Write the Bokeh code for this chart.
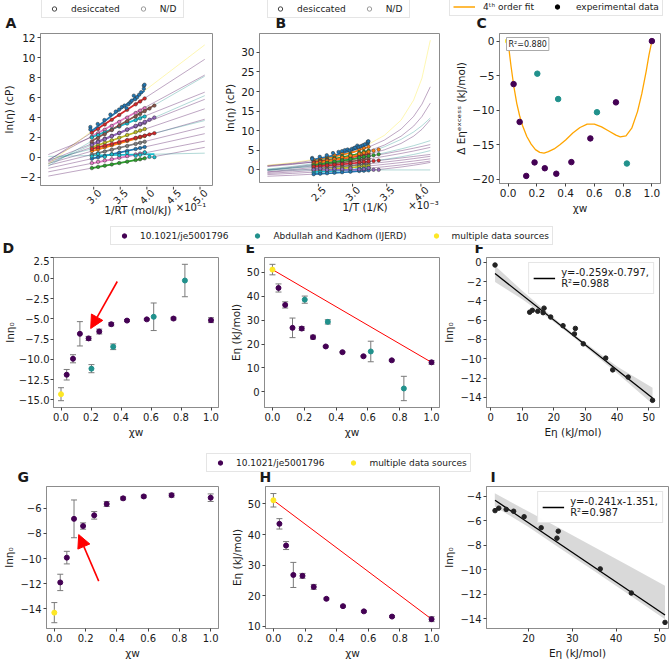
import numpy as np
from bokeh.plotting import figure
from bokeh.layouts import column, row
from bokeh.models import (Range1d, Legend, LegendItem, Label, Arrow, NormalHead, TeeHead,
                          Whisker, ColumnDataSource, FixedTicker)
from bokeh.core.properties import value
from bokeh.embed import file_html
from bokeh.resources import INLINE

R_KJ = 0.0083145  # kJ/(mol K)
FONT = "DejaVu Sans"

# ---------------- data sources ----------------
src_names = ["10.1021/je5001796", "Abdullah and Kadhom (IJERD)", "multiple data sources"]
src_colors = ["#440154", "#21918c", "#fde725"]

# ---------------- panels D, E, G, H (Arrhenius parameters) ----------------
xw_je = [0.038, 0.080, 0.126, 0.184, 0.255, 0.335, 0.440, 0.572, 0.750, 1.000]
ln0_je = [-11.90, -9.93, -6.85, -7.42, -6.57, -5.67, -5.22, -5.07, -4.97, -5.17]
ln0_je_err = [0.65, 0.50, 1.50, 0.25, 0.30, 0.20, 0.12, 0.10, 0.15, 0.30]
E_je = [43.5, 36.4, 26.8, 26.5, 22.9, 19.0, 16.6, 14.9, 13.2, 12.35]
E_je_err = [1.7, 1.3, 4.1, 0.8, 0.8, 0.3, 0.3, 0.3, 0.3, 0.8]

xw_ak = [0.203, 0.348, 0.618, 0.826]
ln0_ak = [-11.15, -8.45, -4.75, -0.28]
ln0_ak_err = [0.50, 0.35, 1.70, 2.00]
E_ak = [38.6, 29.3, 16.9, 1.4]
E_ak_err = [1.5, 0.9, 4.3, 5.1]

xw_ms = [0.0]
ln0_ms = [-14.3]
ln0_ms_err = [0.8]
E_ms = [51.2]
E_ms_err = [2.2]

# ---------------- panels A, B (viscosity data) ----------------
T_je = [363.15, 353.15, 343.15, 333.15, 323.15, 313.15, 303.15, 298.15, 293.15]
T_ak = [363.15, 353.15, 343.15, 333.15, 323.15, 313.15, 303.15, 298.15, 293.15, 288.15, 283.15]
lneta_je = [
    [2.47, 2.86, 3.30, 3.77, 4.26, 4.78, 5.33, 5.62, 5.92],
    [2.07, 2.41, 2.77, 3.16, 3.56, 3.99, 4.45, 4.69, 4.94],
    [1.99, 2.24, 2.51, 2.79, 3.09, 3.40, 3.74, 3.92, 4.10],
    [1.38, 1.63, 1.89, 2.17, 2.46, 2.78, 3.11, 3.29, 3.47],
    [1.03, 1.25, 1.48, 1.72, 1.97, 2.25, 2.54, 2.69, 2.85],
    [0.64, 0.82, 1.01, 1.21, 1.42, 1.65, 1.89, 2.02, 2.15],
    [0.27, 0.42, 0.58, 0.76, 0.94, 1.14, 1.35, 1.46, 1.57],
    [-0.14, 0.00, 0.15, 0.31, 0.48, 0.65, 0.84, 0.94, 1.04],
    [-0.58, -0.45, -0.32, -0.19, -0.04, 0.12, 0.29, 0.38, 0.47],
    [-1.08, -0.96, -0.84, -0.71, -0.57, -0.43, -0.27, -0.19, -0.10],
]
lneta_ak = [
    [1.58, 1.95, 2.33, 2.74, 3.17, 3.63, 4.11, 4.37, 4.64, 4.91, 5.20],
    [1.25, 1.53, 1.82, 2.13, 2.46, 2.80, 3.17, 3.37, 3.57, 3.78, 4.00],
    [0.85, 1.01, 1.17, 1.35, 1.54, 1.74, 1.96, 2.07, 2.18, 2.30, 2.43],
    [0.10, 0.35, 0.05, 0.30, 0.20, 0.45, 0.15, 0.25, 0.50, 0.05, 0.02],
]
invRT_ms = [3.29, 3.29, 3.40, 3.50, 3.59, 3.67, 3.72, 3.76, 3.80, 3.83, 3.86,
            3.89, 3.91, 3.94, 3.96, 3.99, 4.02, 4.05, 4.09, 4.09, 4.10]
lneta_ms = [3.05, 2.80, 3.35, 3.75, 4.30, 4.60, 4.80, 5.05, 5.20, 4.95, 5.35,
            5.55, 5.70, 6.20, 5.85, 6.05, 6.30, 6.55, 6.90, 7.20, 7.30]
colA_je = ["#d62728", "#e377c2", "#17becf", "#9467bd", "#bcbd22", "#ff7f0e",
           "#7f7f7f", "#1f77b4", "#e377c2", "#2ca02c"]
colA_ak = ["#8c564b", "#9467bd", "#d62728", "#17becf"]
colA_ms = "#1f77b4"
colB_je = ["#ff7f0e", "#2ca02c", "#d62728", "#9467bd", "#8c564b", "#e377c2",
           "#7f7f7f", "#bcbd22", "#17becf", "#1f77b4"]
colB_ak = ["#ff7f0e", "#2ca02c", "#d62728", "#9467bd"]
colB_ms = "#1f77b4"

T_ext = [452.0, 240.5]  # temperature span of the extrapolated Arrhenius lines (K)

invT_curve = [2.2, 2.5, 2.75, 3.0, 3.25, 3.42, 3.6, 3.8, 3.95, 4.05, 4.15]
vft_je = [
    [1.02, 1.70, 2.43, 3.38, 4.69, 5.90, 7.61, 10.42, 13.64, 16.78, 21.21],
    [0.85, 1.42, 2.04, 2.84, 3.93, 4.93, 6.34, 8.61, 11.17, 13.63, 17.04],
    [1.13, 1.55, 2.00, 2.58, 3.38, 4.10, 5.12, 6.76, 8.61, 10.36, 12.78],
    [0.00, 0.71, 1.37, 2.08, 2.87, 3.45, 4.11, 4.90, 5.54, 6.00, 6.47],
    [-0.09, 0.49, 1.03, 1.64, 2.33, 2.85, 3.46, 4.21, 4.83, 5.29, 5.76],
    [-0.49, 0.11, 0.64, 1.18, 1.74, 2.14, 2.57, 3.06, 3.44, 3.70, 3.96],
    [-0.60, -0.15, 0.26, 0.71, 1.21, 1.57, 1.99, 2.49, 2.89, 3.18, 3.48],
    [-0.89, -0.50, -0.14, 0.26, 0.71, 1.04, 1.42, 1.89, 2.27, 2.55, 2.83],
    [-1.18, -0.87, -0.57, -0.23, 0.16, 0.46, 0.82, 1.27, 1.66, 1.95, 2.26],
    [-1.61, -1.35, -1.08, -0.78, -0.40, -0.10, 0.26, 0.75, 1.20, 1.54, 1.92],
]
vft_ak = [
    [0.21, 0.89, 1.60, 2.49, 3.62, 4.60, 5.90, 7.79, 9.68, 11.29, 13.24],
    [-0.13, 0.58, 1.25, 2.01, 2.89, 3.56, 4.35, 5.35, 6.19, 6.82, 7.48],
    [0.14, 0.50, 0.85, 1.27, 1.78, 2.18, 2.68, 3.35, 3.95, 4.41, 4.93],
    [0.00, 0.00, 0.00, 0.00, 0.00, 0.00, 0.00, 0.00, 0.00, 0.00, 0.00],
]
vft_ms = [1.18, 1.88, 2.66, 3.71, 5.21, 6.65, 8.82, 12.70, 17.80, 23.40, 33.10]

fit4_x = [0.0, 0.01, 0.02, 0.04, 0.06, 0.08, 0.10, 0.13, 0.16, 0.19, 0.22, 0.25, 0.28, 0.32,
          0.36, 0.40, 0.45, 0.50, 0.55, 0.60, 0.65, 0.70, 0.75, 0.78, 0.82, 0.86, 0.90,
          0.93, 0.96, 0.98, 1.0]
fit4_y = [0.0, -1.9, -3.6, -6.6, -9.0, -10.8, -12.2, -13.8, -14.9, -15.7, -16.1, -16.2, -16.0,
          -15.6, -15.0, -14.3, -13.3, -12.5, -12.0, -12.0, -12.4, -13.0, -13.6, -13.85, -13.7,
          -12.6, -10.2, -7.6, -4.4, -2.0, 0.0]
fit4_r2 = "R²=0.880"

# ---------------- panels F, I (regressions) ----------------
regF_slope, regF_icpt = -0.259, -0.797
regF_label = "y=-0.259x-0.797,\nR²=0.988"
bandF_x = [1.4, 10.0, 20.0, 26.0, 30.0, 40.0, 51.2]
bandF_hi = [-0.35, -2.95, -5.78, -7.35, -8.37, -10.80, -13.0]
bandF_lo = [-2.05, -3.84, -6.18, -7.71, -8.77, -11.50, -14.7]

regI_slope, regI_icpt = -0.241, -1.351
regI_label = "y=-0.241x-1.351,\nR²=0.987"
bandI_x = [12.3, 20.0, 27.0, 35.0, 43.0, 51.2]
bandI_hi = [-3.75, -5.25, -6.60, -8.15, -9.70, -11.30]
bandI_lo = [-4.85, -6.50, -8.20, -10.10, -12.05, -14.05]

# red arrows (x_start, y_start, x_end, y_end)
arrowD = [0.375, -0.4, 0.198, -6.2]
arrowG = [0.284, -11.8, 0.156, -8.1]

TXT = "#1a1a1a"
FAR = [-1.0e4]  # legend proxy renderers are placed outside the visible range


# ---------------- helpers ----------------
def tick_labels(ticks, nd):
    out = {}
    for t in ticks:
        s = f"{t:.{nd}f}"
        if s.startswith("-"):
            s = "\u2212" + s[1:]
        out[t] = s
    return out


def mkfig(w, h, left, right, top, bottom, xr, yr, xt, yt, xnd, ynd, xlab, ylab,
          tick_fs="10px", lab_fs="10.5px", no_xaxis=False):
    kw = dict(x_axis_location=None) if no_xaxis else {}
    p = figure(width=w, height=h, x_range=Range1d(*xr), y_range=Range1d(*yr),
               output_backend="svg", toolbar_location=None,
               min_border_left=left, min_border_right=right,
               min_border_top=top, min_border_bottom=bottom, **kw)
    p.xgrid.visible = False
    p.ygrid.visible = False
    p.outline_line_color = "#8c8c8c"
    p.outline_line_width = 1
    axes = [p.yaxis[0]]
    if not no_xaxis:
        axes.append(p.xaxis[0])
        p.xaxis.ticker = FixedTicker(ticks=xt)
        p.xaxis.major_label_overrides = tick_labels(xt, xnd)
        p.xaxis.axis_label = xlab
    p.yaxis.ticker = FixedTicker(ticks=yt)
    p.yaxis.major_label_overrides = tick_labels(yt, ynd)
    p.yaxis.axis_label = ylab
    for ax in axes:
        ax.axis_line_color = "#8c8c8c"
        ax.major_tick_line_color = "#444444"
        ax.major_tick_out = 3
        ax.major_tick_in = 0
        ax.minor_tick_line_color = None
        ax.major_label_text_font = FONT
        ax.major_label_text_font_size = tick_fs
        ax.major_label_text_color = TXT
        ax.major_label_standoff = 2
        ax.axis_label_text_font = FONT
        ax.axis_label_text_font_size = lab_fs
        ax.axis_label_text_font_style = "normal"
        ax.axis_label_text_color = TXT
        ax.axis_label_standoff = 2
    return p


def mkstrip(h, w=669):
    s = figure(width=w, height=h, x_range=Range1d(0, w), y_range=Range1d(0, h),
               x_axis_type=None, y_axis_type=None, output_backend="svg",
               toolbar_location=None, min_border=0)
    s.outline_line_color = None
    return s


def mksub(parent, w, h, left, right):
    xs, xe = parent.x_range.start, parent.x_range.end
    k = (xe - xs) / (w - left - right)
    s = figure(width=w, height=h, x_range=Range1d(xs - left * k, xe + right * k),
               y_range=Range1d(0, h), x_axis_type=None, y_axis_type=None,
               output_backend="svg", toolbar_location=None, min_border=0)
    s.outline_line_color = None
    return s


def txt(s, xs, ys, texts, size="10.5px", align="center", baseline="middle", angle=0.0,
        style="normal", level="glyph"):
    s.text(x=xs, y=ys, text=texts, angle=angle, text_align=align, text_baseline=baseline,
           text_font=value(FONT), text_font_size=value(size), text_color=TXT,
           text_font_style=value(style), level=level)


def strip_legend(s, items, x, y, spacing=19, glyph_w=20, standoff=6):
    leg = Legend(items=items, location=(x, y), orientation="horizontal",
                 label_text_font=FONT, label_text_font_size="9px", label_text_color=TXT,
                 border_line_color="#cccccc", border_line_width=1,
                 background_fill_color="white", background_fill_alpha=1.0,
                 padding=3, margin=0, spacing=spacing, label_standoff=standoff,
                 glyph_width=glyph_w, glyph_height=11, label_height=11, level="underlay")
    s.add_layout(leg)


def inv_rt(T):
    return [10.0 / (R_KJ * t) for t in T]


def errbars(p, xs, ys, es):
    src = ColumnDataSource(dict(x=xs, up=[a + b for a, b in zip(ys, es)],
                                lo=[a - b for a, b in zip(ys, es)]))
    p.add_layout(Whisker(source=src, base="x", upper="up", lower="lo",
                         line_color="#7a7a7a", line_width=1, level="underlay",
                         upper_head=TeeHead(size=6, line_color="#7a7a7a", line_width=1),
                         lower_head=TeeHead(size=6, line_color="#7a7a7a", line_width=1)))


def letters(s, xs, texts):
    txt(s, xs, [0.5] * len(xs), texts, size="14px", align="left", baseline="bottom",
        style="bold", level="overlay")


# ================= ROW 1 =================
strip1 = mkstrip(31)
r_des = strip1.scatter(x=FAR, y=FAR, marker="circle", size=4, fill_color=None, line_color="#444444")
r_nd = strip1.scatter(x=FAR, y=FAR, marker="circle", size=4, fill_color=None, line_color="#9a9a9a")
strip_legend(strip1, [LegendItem(label=value("desiccated"), renderers=[r_des]),
                      LegendItem(label=value("N/D"), renderers=[r_nd])], 41, 13,
             spacing=14, glyph_w=18, standoff=8)
strip_legend(strip1, [LegendItem(label=value("desiccated"), renderers=[r_des]),
                      LegendItem(label=value("N/D"), renderers=[r_nd])], 267, 13,
             spacing=14, glyph_w=18, standoff=8)
r_fit = strip1.line(x=FAR * 2, y=FAR * 2, line_color="#ffa500", line_width=1.5)
r_exp = strip1.scatter(x=FAR, y=FAR, marker="circle", size=5, fill_color="black", line_color="black")
strip_legend(strip1, [LegendItem(label=value("4ᵗʰ order fit"), renderers=[r_fit]),
                      LegendItem(label=value("experimental data"), renderers=[r_exp])],
             449, 15, spacing=12, glyph_w=22, standoff=8)
letters(strip1, [5, 275, 476], ["A", "B", "C"])

# ---- A
xtA = [3.0, 3.5, 4.0, 4.5, 5.0]
pA = mkfig(220, 155, 37, 8, 2, 1, (2.544, 5.117), (-2.83, 12.45),
           xtA, [-2, 0, 2, 4, 6, 8, 10, 12], 1, 0,
           None, "ln(η) (cP)", tick_fs="10.5px", lab_fs="10.5px", no_xaxis=True)
groups = [(ln0_je, E_je, 0), (ln0_ak, E_ak, 1), (ln0_ms, E_ms, 2)]
for l0s, Es, g in groups:
    for l0, E in zip(l0s, Es):
        xs = inv_rt(T_ext)
        pA.line(xs, [l0 + E * x / 10 for x in xs], line_color=src_colors[g], line_alpha=0.35, line_width=1)
for i, (l0, E) in enumerate(zip(ln0_je, E_je)):
    xs = inv_rt([T_je[0], T_je[-1]])
    pA.line(xs, [l0 + E * x / 10 for x in xs], line_color=colA_je[i], line_width=1.7)
for i, (l0, E) in enumerate(zip(ln0_ak, E_ak)):
    xs = inv_rt([T_ak[0], T_ak[-1]])
    pA.line(xs, [l0 + E * x / 10 for x in xs], line_color=colA_ak[i], line_width=1.7)
xs = [min(invRT_ms), max(invRT_ms)]
pA.line(xs, [ln0_ms[0] + E_ms[0] * x / 10 for x in xs], line_color=colA_ms, line_width=1.7)
for i, ys in enumerate(lneta_je):
    pA.scatter(inv_rt(T_je), ys, size=3.5, fill_color=colA_je[i], line_color="#333333", line_width=0.5)
for i, ys in enumerate(lneta_ak):
    pA.scatter(inv_rt(T_ak), ys, size=3.5, fill_color=colA_ak[i], line_color="#333333", line_width=0.5)
pA.scatter(invRT_ms, lneta_ms, size=3.5, fill_color=colA_ms, line_color="#333333", line_width=0.5)

subA = mksub(pA, 220, 34, 37, 8)
subA.segment(x0=xtA, y0=[34] * len(xtA), x1=xtA, y1=[31] * len(xtA), line_color="#444444")
txt(subA, xtA, [24] * len(xtA), list(tick_labels(xtA, 1).values()), size="10px", angle=np.pi / 4)
txt(subA, [(pA.x_range.start + pA.x_range.end) / 2], [11], ["1/RT (mol/kJ)"])
txt(subA, [pA.x_range.end], [13], ["×10⁻¹"], size="10px", align="right")

# ---- B
xtB = [2.5, 3.0, 3.5, 4.0]
pB = mkfig(220, 152, 39, 1, 2, 1, (2.105, 4.26), (-3.2, 34.8),
           xtB, [0, 5, 10, 15, 20, 25, 30], 1, 0,
           None, "ln(η) (cP)", tick_fs="10.5px", lab_fs="10.5px", no_xaxis=True)
curve_groups = [(vft_je, 0), (vft_ak, 1), ([vft_ms], 2)]
for curves, g in curve_groups:
    for c in curves:
        pB.line(invT_curve, c, line_color=src_colors[g], line_alpha=0.35, line_width=1)
fit_idx = [i for i, x in enumerate(invT_curve) if 2.74 <= x <= 3.43]
for curves, cols in [(vft_je, colB_je), (vft_ak, colB_ak), ([vft_ms], [colB_ms])]:
    for c, col in zip(curves, cols):
        pB.line([invT_curve[i] for i in fit_idx], [c[i] for i in fit_idx], line_color=col, line_width=1.7)
for i, ys in enumerate(lneta_je):
    pB.scatter([1000.0 / t for t in T_je], ys, size=3.5, fill_color=colB_je[i], line_color="#333333", line_width=0.5)
for i, ys in enumerate(lneta_ak):
    pB.scatter([1000.0 / t for t in T_ak], ys, size=3.5, fill_color=colB_ak[i], line_color="#333333", line_width=0.5)
pB.scatter([x * R_KJ * 100 for x in invRT_ms], lneta_ms, size=3.5, fill_color=colB_ms,
           line_color="#333333", line_width=0.5)

subB = mksub(pB, 220, 35, 39, 1)
subB.segment(x0=xtB, y0=[35] * len(xtB), x1=xtB, y1=[32] * len(xtB), line_color="#444444")
txt(subB, xtB, [25] * len(xtB), list(tick_labels(xtB, 1).values()), size="10px", angle=np.pi / 4)
txt(subB, [(pB.x_range.start + pB.x_range.end) / 2], [12], ["1/T (1/K)"])
txt(subB, [pB.x_range.end], [13], ["×10⁻³"], size="10px", align="right")

# ---- C
pC = mkfig(229, 189, 59, 9, 2, 37, (-0.06, 1.06), (-20.6, 1.1),
           [0.0, 0.2, 0.4, 0.6, 0.8, 1.0], [-20, -15, -10, -5, 0], 1, 0,
           "χw", "Δ Eηᵉˣᶜᵉˢˢ (kJ/mol)", tick_fs="10.5px", lab_fs="10.5px")
E0, E1 = E_ms[0], E_je[-1]
pC.line(fit4_x, fit4_y, line_color="#ffa500", line_width=1.3)
for xs_, Es_, g in [(xw_je, E_je, 0), (xw_ak, E_ak, 1), (xw_ms, E_ms, 2)]:
    exc = [E - (E0 * (1 - x) + E1 * x) for x, E in zip(xs_, Es_)]
    pC.scatter(xs_, exc, size=5.5, fill_color=src_colors[g], line_color=src_colors[g])
pC.add_layout(Label(x=pC.x_range.start, y=pC.y_range.end, x_offset=7, y_offset=-4,
                    text=fit4_r2, text_font=FONT, text_font_size="8px", text_baseline="top",
                    text_color=TXT, border_line_color="#aaaaaa", border_line_width=1,
                    background_fill_color="white", padding=2))

# ================= ROW 2 =================
strip2 = mkstrip(36)
rs = [strip2.scatter(x=FAR, y=FAR, marker="circle", size=4, fill_color=c, line_color=c) for c in src_colors]
strip_legend(strip2, [LegendItem(label=value(n), renderers=[r]) for n, r in zip(src_names, rs)], 110, 11)
letters(strip2, [2, 245, 474], ["D", "E", "F"])

# ---- D
pD = mkfig(220, 184, 47, 2, 1, 32, (-0.05, 1.05), (-15.94, 2.56),
           [0.0, 0.2, 0.4, 0.6, 0.8, 1.0], [-15, -12.5, -10, -7.5, -5, -2.5, 0, 2.5], 1, 1,
           "χw", "lnη₀")
pD.yaxis.major_label_standoff = 1
pD.yaxis.axis_label_standoff = 0
for xs_, ys_, es_, g in [(xw_je, ln0_je, ln0_je_err, 0), (xw_ak, ln0_ak, ln0_ak_err, 1),
                         (xw_ms, ln0_ms, ln0_ms_err, 2)]:
    errbars(pD, xs_, ys_, es_)
    pD.scatter(xs_, ys_, size=5, fill_color=src_colors[g], line_color=src_colors[g])
pD.add_layout(Arrow(end=NormalHead(size=13, fill_color="red", line_color="red"),
                    x_start=arrowD[0], y_start=arrowD[1], x_end=arrowD[2], y_end=arrowD[3],
                    line_color="red", line_width=1.6))

# ---- E
pE = mkfig(220, 184, 44, 1, 1, 32, (-0.05, 1.05), (-6.56, 56.26),
           [0.0, 0.2, 0.4, 0.6, 0.8, 1.0], [0, 10, 20, 30, 40, 50], 1, 0,
           "χw", "Eη (kJ/mol)")
pE.line([xw_ms[0], xw_je[-1]], [E_ms[0], E_je[-1]], line_color="red", line_width=1)
for xs_, ys_, es_, g in [(xw_je, E_je, E_je_err, 0), (xw_ak, E_ak, E_ak_err, 1),
                         (xw_ms, E_ms, E_ms_err, 2)]:
    errbars(pE, xs_, ys_, es_)
    pE.scatter(xs_, ys_, size=5, fill_color=src_colors[g], line_color=src_colors[g])

# ---- F
pF = mkfig(229, 184, 44, 10, 1, 32, (-1.3, 53.4), (-15.05, 0.5),
           [0, 10, 20, 30, 40, 50], [-14, -12, -10, -8, -6, -4, -2, 0], 0, 0,
           "Eη (kJ/mol)", "lnη₀")
pF.varea(x=bandF_x, y1=bandF_lo, y2=bandF_hi, fill_color="black", fill_alpha=0.15)
xF = E_je + E_ak + E_ms
yF = ln0_je + ln0_ak + ln0_ms
lx = [min(xF), max(xF)]
rF = pF.line(lx, [regF_slope * x + regF_icpt for x in lx], line_color="black", line_width=1.3)
pF.scatter(xF, yF, size=4.5, fill_color="#222222", line_color="#222222")
pF.add_layout(Legend(items=[LegendItem(label=value(regF_label), renderers=[rF])],
                     location="top_right", label_text_font=FONT, label_text_font_size="10px",
                     label_text_color=TXT, border_line_color="#cccccc", padding=4, margin=5,
                     glyph_width=22, label_standoff=6))

# ================= ROW 3 =================
strip3 = mkstrip(45)
rs3 = [strip3.scatter(x=FAR, y=FAR, marker="circle", size=4, fill_color=src_colors[i],
                      line_color=src_colors[i]) for i in (0, 2)]
strip_legend(strip3, [LegendItem(label=value(src_names[0]), renderers=[rs3[0]]),
                      LegendItem(label=value(src_names[2]), renderers=[rs3[1]])], 206, 13)
letters(strip3, [17, 259, 490], ["G", "H", "I"])

# ---- G
pG = mkfig(220, 176, 40, 2, 1, 30, (-0.05, 1.05), (-15.56, -4.28),
           [0.0, 0.2, 0.4, 0.6, 0.8, 1.0], [-14, -12, -10, -8, -6], 1, 0,
           "χw", "lnη₀")
for xs_, ys_, es_, g in [(xw_je, ln0_je, ln0_je_err, 0), (xw_ms, ln0_ms, ln0_ms_err, 2)]:
    errbars(pG, xs_, ys_, es_)
    pG.scatter(xs_, ys_, size=5, fill_color=src_colors[g], line_color=src_colors[g])
pG.add_layout(Arrow(end=NormalHead(size=13, fill_color="red", line_color="red"),
                    x_start=arrowG[0], y_start=arrowG[1], x_end=arrowG[2], y_end=arrowG[3],
                    line_color="red", line_width=1.6))

# ---- H
pH = mkfig(220, 176, 45, 1, 1, 30, (-0.05, 1.05), (9.3, 55.7),
           [0.0, 0.2, 0.4, 0.6, 0.8, 1.0], [10, 20, 30, 40, 50], 1, 0,
           "χw", "Eη (kJ/mol)")
pH.line([xw_ms[0], xw_je[-1]], [E_ms[0], E_je[-1]], line_color="red", line_width=1)
for xs_, ys_, es_, g in [(xw_je, E_je, E_je_err, 0), (xw_ms, E_ms, E_ms_err, 2)]:
    errbars(pH, xs_, ys_, es_)
    pH.scatter(xs_, ys_, size=5, fill_color=src_colors[g], line_color=src_colors[g])

# ---- I
pI = mkfig(229, 176, 38, 1, 1, 30, (10.4, 52.0), (-14.8, -3.2),
           [20, 30, 40, 50], [-14, -12, -10, -8, -6, -4], 0, 0,
           "Eη (kJ/mol)", "lnη₀")
pI.varea(x=bandI_x, y1=bandI_lo, y2=bandI_hi, fill_color="black", fill_alpha=0.15)
xI = E_je + E_ms
yI = ln0_je + ln0_ms
lx = [min(xI), max(xI)]
rI = pI.line(lx, [regI_slope * x + regI_icpt for x in lx], line_color="black", line_width=1.3)
pI.scatter(xI, yI, size=4.5, fill_color="#222222", line_color="#222222")
pI.add_layout(Legend(items=[LegendItem(label=value(regI_label), renderers=[rI])],
                     location="top_right", label_text_font=FONT, label_text_font_size="10px",
                     label_text_color=TXT, border_line_color="#cccccc", padding=4, margin=5,
                     glyph_width=22, label_standoff=6))

layout = column(
    strip1,
    row(column(pA, subA, spacing=0), column(pB, subB, spacing=0), pC, spacing=0),
    strip2,
    row(pD, pE, pF, spacing=0),
    strip3,
    row(pG, pH, pI, spacing=0),
    spacing=0)

with open("out.html", "w") as f:
    f.write(file_html(layout, INLINE, "viscosity panels"))
